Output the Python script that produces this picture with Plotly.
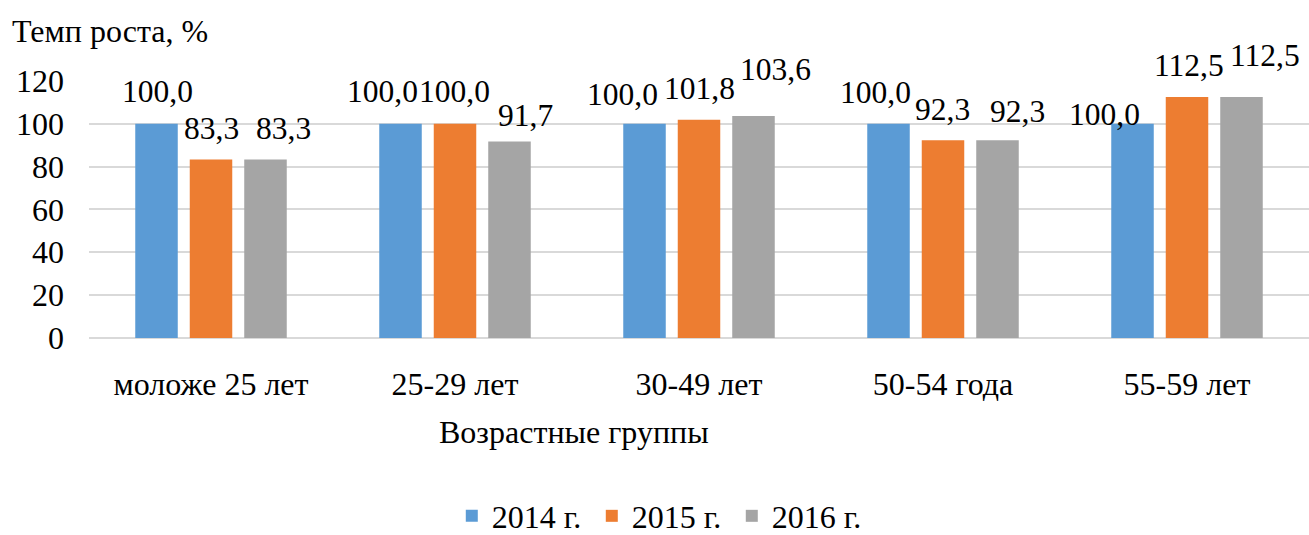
import plotly.graph_objects as go

categories = ["моложе 25 лет", "25-29 лет", "30-49 лет", "50-54 года", "55-59 лет"]
series_names = ["2014 г.", "2015 г.", "2016 г."]
v2014 = [100.0, 100.0, 100.0, 100.0, 100.0]
v2015 = [83.3, 100.0, 101.8, 92.3, 112.5]
v2016 = [83.3, 91.7, 103.6, 92.3, 112.5]
y_ticks = [0, 20, 40, 60, 80, 100, 120]

values = [v2014, v2015, v2016]
colors = ["#5B9BD5", "#ED7D31", "#A5A5A5"]

# label nudges (px) as placed in the source chart
label_dx = [[1, -18, -22, -13, -28], [0, -1, 0, -1, 2], [18, 16, 22, 20, 23]]
label_dy = [[30, 30, 27, 29, 7], [29, 30, 29, 29, 29], [29, 24, 45, 27, 39]]

FONT = "'Times New Roman', 'Liberation Serif', 'DejaVu Serif', serif"
FS_LBL = 31.5
FS = 32

def fmt(v):
    return f"{v:.1f}".replace(".", ",")

fig = go.Figure()
for name, vals, col in zip(series_names, values, colors):
    fig.add_trace(go.Bar(x=categories, y=vals, name=name, marker=dict(color=col, line=dict(width=0))))

step = 54.5
for i, vals in enumerate(values):
    for j, v in enumerate(vals):
        fig.add_annotation(x=categories[j], y=v, xref="x", yref="y", text=fmt(v), showarrow=False,
                           xanchor="center", yanchor="middle",
                           xshift=(i - 1) * step + label_dx[i][j], yshift=label_dy[i][j] + 2,
                           font=dict(family=FONT, size=FS_LBL, color="#000000"))

fig.add_annotation(text="Темп роста, %", xref="paper", yref="paper", x=-0.0648, y=1.19,
                   xanchor="left", yanchor="middle", showarrow=False,
                   font=dict(family=FONT, size=FS, color="#000000"))
fig.add_annotation(text="Возрастные группы", xref="paper", yref="paper", x=0.3975, y=-0.366,
                   xanchor="center", yanchor="middle", showarrow=False,
                   font=dict(family=FONT, size=FS, color="#000000"))

fig.update_layout(
    width=1309, height=535,
    margin=dict(l=89, r=0, t=80, b=197, autoexpand=False),
    paper_bgcolor="white", plot_bgcolor="white",
    barmode="group", bargap=0.33, bargroupgap=0.22,
    font=dict(family=FONT, size=FS, color="#000000"),
    showlegend=True,
    legend=dict(orientation="h", xanchor="center", yanchor="middle", x=0.4695, y=-0.69,
                font=dict(family=FONT, size=FS, color="#000000"), entrywidth=95,
                itemclick=False),
    xaxis=dict(showgrid=False, showline=False, ticks="", ticklabelstandoff=24, automargin=False,
               tickfont=dict(family=FONT, size=FS)),
    yaxis=dict(range=[0, 120.4], tickvals=y_ticks, showgrid=True, gridcolor="#D9D9D9", gridwidth=1.5,
               zeroline=True, zerolinecolor="#D9D9D9", zerolinewidth=1.5, showline=False, ticks="",
               automargin=False, ticklabelstandoff=24, tickfont=dict(family=FONT, size=FS)),
)

fig.write_html("out.html", config={"displayModeBar": False},
               post_script="document.body.style.margin='0';document.body.style.overflow='hidden';")
